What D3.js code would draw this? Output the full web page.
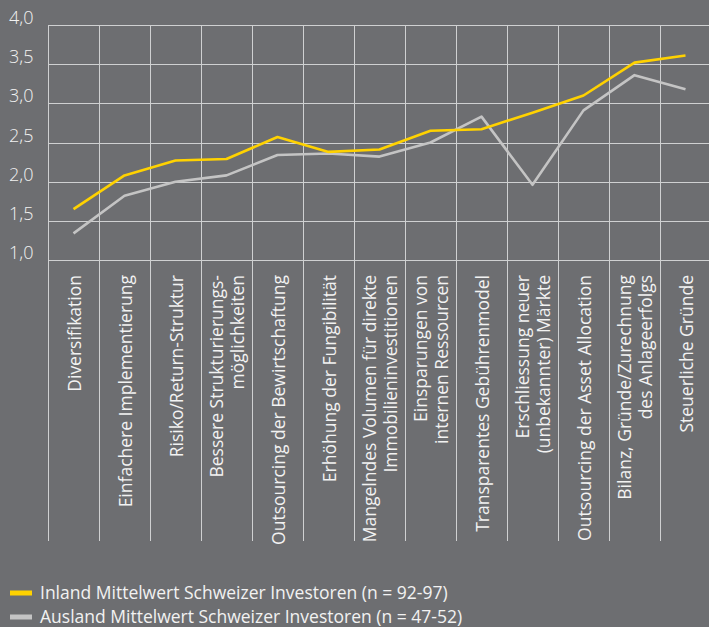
<!DOCTYPE html>
<html>
<head>
<meta charset="utf-8">
<script src="https://cdn.jsdelivr.net/npm/d3@7"></script>
<style>
  html, body { margin: 0; padding: 0; background: #6d6e71; }
  svg { display: block; }
  text { font-family: "Open Sans", "DejaVu Sans", sans-serif; fill: #f2f2f2; }
</style>
</head>
<body>
<svg id="chart"></svg>
<script>
const categories = [
  ['Diversifikation'],
  ['Einfachere Implementierung'],
  ['Risiko/Return-Struktur'],
  ['Bessere Strukturierungs-', 'möglichkeiten'],
  ['Outsourcing der Bewirtschaftung'],
  ['Erhöhung der Fungibilität'],
  ['Mangelndes Volumen für direkte', 'Immobilieninvestitionen'],
  ['Einsparungen von', 'internen Ressourcen'],
  ['Transparentes Gebührenmodel'],
  ['Erschliessung neuer', '(unbekannter) Märkte'],
  ['Outsourcing der Asset Allocation'],
  ['Bilanz, Gründe/Zurechnung', 'des Anlageerfolgs'],
  ['Steuerliche Gründe']
];
const inland = [1.65, 2.08, 2.27, 2.29, 2.57, 2.38, 2.41, 2.65, 2.67, 2.88, 3.10, 3.52, 3.61];
const ausland = [1.34, 1.82, 2.00, 2.08, 2.34, 2.36, 2.32, 2.50, 2.83, 1.96, 2.91, 3.36, 3.18];
const yTicks = [1.0, 1.5, 2.0, 2.5, 3.0, 3.5, 4.0];
const legendLabels = [
  'Inland Mittelwert Schweizer Investoren (n = 92-97)',
  'Ausland Mittelwert Schweizer Investoren (n = 47-52)'
];

const width = 709;
const height = 627;
const margin = { left: 48, top: 25, right: -2 };
const plotBottom = 260;
const gridBottom = 541;
const colors = ['#ffd200', '#c4c4c4'];
const gridColor = '#cfd0d1';

const svg = d3.select('#chart').attr('width', width).attr('height', height);

const x = d3.scaleBand()
  .domain(d3.range(categories.length))
  .range([margin.left, width - margin.right])
  .padding(0);
const y = d3.scaleLinear().domain([1, 4]).range([plotBottom, margin.top]);

const fmt = (v) => v.toFixed(1).replace('.', ',');

// horizontal grid + y labels
const yAxis = svg.append('g');
yAxis.selectAll('line')
  .data(yTicks)
  .join('line')
  .attr('x1', margin.left)
  .attr('x2', width)
  .attr('y1', (d) => Math.round(y(d)) + 0.5)
  .attr('y2', (d) => Math.round(y(d)) + 0.5)
  .attr('stroke', gridColor)
  .attr('stroke-width', 1);
yAxis.selectAll('text')
  .data(yTicks)
  .join('text')
  .attr('x', 9)
  .attr('y', (d) => y(d) - 1)
  .attr('font-size', 18)
  .attr('font-weight', 300)
  .text(fmt);

// vertical grid
svg.append('g')
  .selectAll('line')
  .data(d3.range(categories.length + 1))
  .join('line')
  .attr('x1', (i) => Math.round(margin.left + i * x.bandwidth()) + 0.5)
  .attr('x2', (i) => Math.round(margin.left + i * x.bandwidth()) + 0.5)
  .attr('y1', margin.top)
  .attr('y2', gridBottom)
  .attr('stroke', gridColor)
  .attr('stroke-width', 1);

// category labels
const lineGap = 21;
const labels = svg.append('g')
  .selectAll('g')
  .data(categories)
  .join('g')
  .attr('transform', (d, i) => `translate(${x(i) + x.bandwidth() / 2 + 1},275) rotate(-90)`);
labels.each(function (lines) {
  const g = d3.select(this);
  const off = -(lines.length - 1) * lineGap / 2;
  lines.forEach((t, k) => {
    g.append('text')
      .attr('x', 0)
      .attr('y', off + k * lineGap)
      .attr('dy', '0.35em')
      .attr('text-anchor', 'end')
      .attr('font-size', 17.5)
      .attr('font-weight', 400)
      .text(t);
  });
});

// series lines
const line = d3.line()
  .x((d, i) => x(i) + x.bandwidth() / 2)
  .y((d) => y(d));
[ausland, inland].forEach((s, k) => {
  svg.append('path')
    .datum(s)
    .attr('fill', 'none')
    .attr('stroke', k === 0 ? colors[1] : colors[0])
    .attr('stroke-width', 2.6)
    .attr('stroke-linejoin', 'round')
    .attr('d', line);
});

// legend
const legend = svg.append('g')
  .selectAll('g')
  .data(legendLabels)
  .join('g')
  .attr('transform', (d, i) => `translate(10,${593 + i * 24})`);
legend.append('rect')
  .attr('x', 0)
  .attr('y', -2.5)
  .attr('width', 22)
  .attr('height', 5)
  .attr('fill', (d, i) => colors[i]);
legend.append('text')
  .attr('x', 30)
  .attr('y', 0)
  .attr('dy', '0.35em')
  .attr('font-size', 17.5)
  .attr('font-weight', 400)
  .text((d) => d);
</script>
</body>
</html>
